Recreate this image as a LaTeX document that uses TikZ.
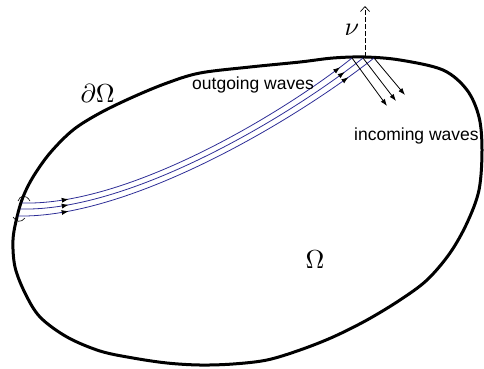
\documentclass[tikz,border=0pt]{standalone}
\usepackage{fontspec}
\setsansfont{Liberation Sans}
\usetikzlibrary{arrows.meta,decorations.markings}
\definecolor{raycol}{RGB}{45,45,150}
\tikzset{
  raytip/.tip={Latex[length=7pt,width=5pt,black]},
  boundary/.style={line width=3pt, line join=round},
  rayline/.style={draw=raycol, line width=0.8pt},
  outmark/.style 2 args={postaction={decorate,decoration={markings,
      mark=at position #1 with {\arrow{raytip}},
      mark=at position #2 with {\arrow{raytip}}}}},
  incoming/.style={draw=black, line width=0.8pt, -{Latex[length=7pt,width=5pt]}},
  normalvec/.style={draw=black, line width=0.7pt, dash pattern=on 5pt off 2pt, -{Straight Barb[length=5pt,width=9pt]}},
  tick/.style={draw=black, line width=0.6pt},
  sanslabel/.style={inner sep=0pt, anchor=base west, font=\sffamily\fontsize{17.5}{20}\selectfont},
  mathlabel/.style={inner sep=0pt, anchor=base west, scale=2.6},
}
\begin{document}
\begin{tikzpicture}[x=1pt,y=-1pt]
\useasboundingbox (0,0) rectangle (484,368);
% domain boundary
\draw[boundary] plot[smooth cycle, tension=0.55] coordinates {
 (365,57) (400,60) (443,70) (467,90) (479,117) (482,150) (479,190) (467,223)
 (450,253) (427,280) (400,300) (367,320) (333,337) (300,350) (267,360) (233,364)
 (200,365) (167,363) (133,358) (100,351) (67,337) (40,317) (25,293) (15,267)
 (13,240) (17,217) (23,197) (33,177) (50,153) (73,130) (100,113) (133,97)
 (167,83) (200,73) (250,67) (300,62) (333,58)};
% end points of rays
\coordinate (L1) at (22,203);
\coordinate (L2) at (20,209);
\coordinate (L3) at (18,216);
\coordinate (T1) at (352,58);
\coordinate (T2) at (363,58);
\coordinate (T3) at (374,58);
\coordinate (R1) at (387,106);
\coordinate (R2) at (396,101);
\coordinate (R3) at (405,95);
\coordinate (N0) at (365,57);
\coordinate (N1) at (365,6);
% outgoing rays
\draw[rayline, outmark={47pt}{-15pt}] (L1) .. controls (130,206) and (286,111) .. (T1);
\draw[rayline, outmark={49pt}{-23pt}] (L2) .. controls (130,212) and (290,116) .. (T2);
\draw[rayline, outmark={51pt}{-32pt}] (L3) .. controls (130,218) and (294,121) .. (T3);
% incoming rays
\draw[incoming] (T1) -- (R1);
\draw[incoming] (T2) -- (R2);
\draw[incoming] (T3) -- (R3);
% normal
\draw[normalvec] (N0) -- (N1);
% small ticks at the left boundary
\coordinate (A1) at (18,201); \coordinate (A2) at (30,201);
\coordinate (B1) at (13,217); \coordinate (B2) at (25,218);
\draw[tick] (A1) .. controls (20,195) and (26,194) .. (A2);
\draw[tick] (B1) .. controls (16,222) and (21,223) .. (B2);
% labels
\node[sanslabel] (outl) at (192,89) {outgoing waves};
\node[sanslabel] (inl) at (354,140) {incoming waves};
\node[mathlabel] (dom) at (80,102) {$\partial\Omega$};
\node[mathlabel] (om) at (305,268) {$\Omega$};
\node[mathlabel] (nu) at (344,35) {$\nu$};
\end{tikzpicture}
\end{document}
